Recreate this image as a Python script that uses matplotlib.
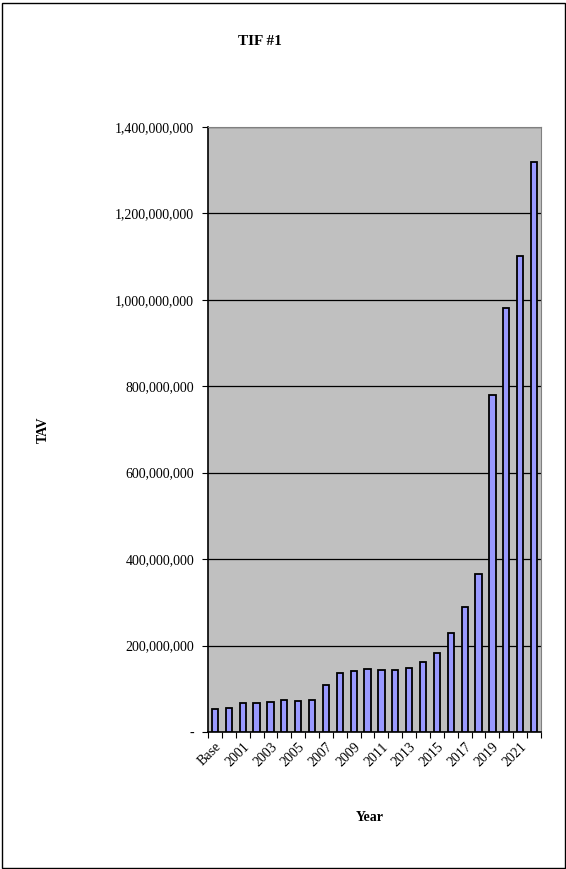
import matplotlib
matplotlib.use("Agg")
import matplotlib.pyplot as plt
from matplotlib.patches import Rectangle
from matplotlib.ticker import FuncFormatter, MultipleLocator

# --- data ---
years = ["Base", "2000", "2001", "2002", "2003", "2004", "2005", "2006",
         "2007", "2008", "2009", "2010", "2011", "2012", "2013", "2014",
         "2015", "2016", "2017", "2018", "2019", "2020", "2021", "2022"]
tav_millions = [54, 54.5, 68, 67, 70, 75, 71, 75,
                109, 137, 142, 145, 144, 144, 147, 161,
                182, 228, 290, 365, 779, 981, 1102, 1318]
tav = [v * 1e6 for v in tav_millions]

plt.rcParams['font.family'] = ['Liberation Serif', 'DejaVu Serif']

fig = plt.figure(figsize=(5.66, 8.69), dpi=100)
ax = fig.add_axes([0.3675, 0.1577, 0.5883, 0.6962])

x = list(range(len(years)))
ax.bar(x, tav, width=0.45, color="#9999FF", edgecolor="black", linewidth=1.3, zorder=3)

ax.set_facecolor("#C0C0C0")
ax.set_xlim(-0.5, len(years) - 0.5)
ax.set_ylim(0, 1.4e9)

# y axis: gridlines every 200M, "-" for zero
ax.yaxis.set_major_locator(MultipleLocator(2e8))
ax.yaxis.set_major_formatter(FuncFormatter(lambda v, p: "-" if v == 0 else f"{v:,.0f}"))
ax.grid(axis="y", color="black", linewidth=0.9, zorder=1)
ax.tick_params(axis="y", direction="out", length=4, width=0.8, labelsize=10, pad=6)

# x axis: label every other category, ticks between bars
ax.set_xticks(x[::2])
ax.set_xticklabels(years[::2], rotation=45, ha="right", rotation_mode="anchor")
ax.set_xticks([i - 0.5 for i in range(len(years) + 1)], minor=True)
ax.tick_params(axis="x", which="major", length=0, labelsize=10, pad=6)
ax.tick_params(axis="x", which="minor", direction="out", length=4, width=0.8)

for side in ["top", "right"]:
    ax.spines[side].set_color("#808080")
for side in ["left", "bottom"]:
    ax.spines[side].set_color("black")
    ax.spines[side].set_linewidth(1.2)

fig.text(0.459, 0.9517, "TIF #1", ha="center", va="center", fontsize=11, fontweight="bold")
fig.text(0.076, 0.505, "TAV", ha="center", va="center", rotation=90, fontsize=10, fontweight="bold")
fig.text(0.654, 0.0587, "Year", ha="center", va="center", fontsize=10, fontweight="bold")

# outer frame around the whole chart
fig.patches.append(Rectangle((0.004, 0.001), 0.994, 0.996, transform=fig.transFigure,
                             fill=False, edgecolor="black", linewidth=1.0))

fig.savefig("out.png", dpi=100)
